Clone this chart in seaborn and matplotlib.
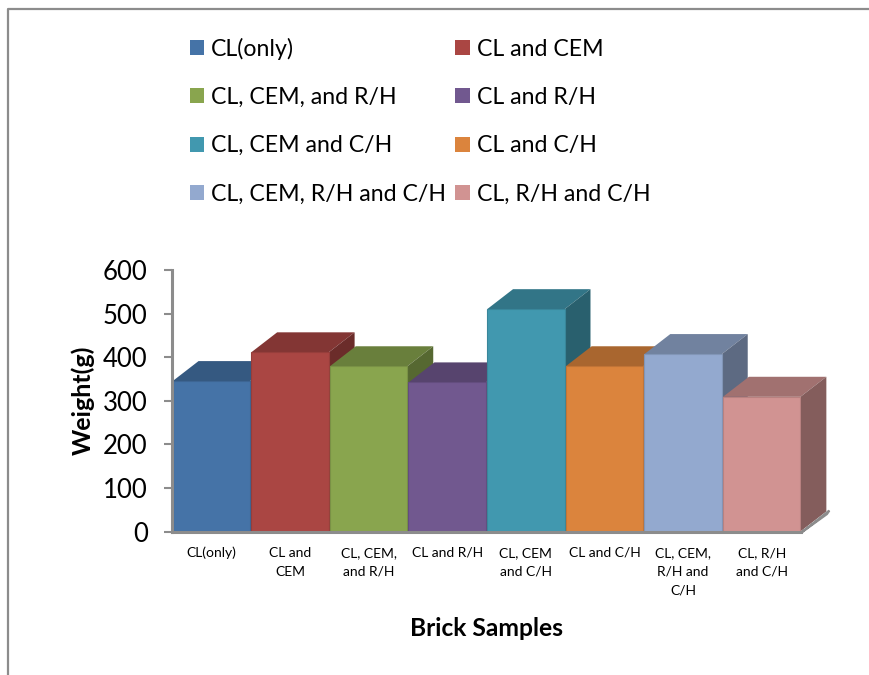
import matplotlib
matplotlib.use("Agg")
import matplotlib.pyplot as plt
import matplotlib.colors as mcolors
from matplotlib.lines import Line2D
from matplotlib.patches import Patch, Polygon
import seaborn as sns

samples = ["CL(only)", "CL and CEM", "CL, CEM, and R/H", "CL and R/H",
           "CL, CEM and C/H", "CL and C/H", "CL, CEM, R/H and C/H", "CL, R/H and C/H"]
tick_labels = ["CL(only)", "CL and\nCEM", "CL, CEM,\nand R/H", "CL and R/H",
               "CL, CEM\nand C/H", "CL and C/H", "CL, CEM,\nR/H and\nC/H", "CL, R/H\nand C/H"]
weights = [345, 411, 379, 342, 510, 379, 407, 309]
colors = ["#4573A7", "#AA4643", "#89A54E", "#71588F",
          "#4198AF", "#DB843D", "#93A9CF", "#D19392"]

FRAME = "#8C8C8C"
DEPTH_X = 0.33   # extrusion of the bars, in category widths
DEPTH_Y = 46     # extrusion of the bars, in grams

sns.set_theme(style="white")
plt.rcParams["font.family"] = ["Lato", "DejaVu Sans"]

fig = plt.figure(figsize=(8.7, 6.75), dpi=100)
ax = fig.add_axes([172 / 870, 1 - 531.5 / 675, 629 / 870, 261.5 / 675])

sns.barplot(x=samples, y=weights, hue=samples, palette=colors, legend=False,
            width=0.985, saturation=1, ax=ax)
ax.set_xlim(-0.5, 7.5)
ax.set_ylim(0, 600)


def shade(color, factor):
    r, g, b = mcolors.to_rgb(color)
    return (r * factor, g * factor, b * factor)


# Extruded top and side faces; later bars overlap earlier ones
for i, (bar, value, color) in enumerate(zip(ax.patches, weights, colors)):
    x0 = bar.get_x()
    x1 = x0 + bar.get_width()
    z = 3 + i * 2
    top = Polygon([(x0, value), (x1, value), (x1 + DEPTH_X, value + DEPTH_Y),
                   (x0 + DEPTH_X, value + DEPTH_Y)],
                  facecolor=shade(color, 0.77), edgecolor="none", clip_on=False, zorder=z)
    side = Polygon([(x1, 0), (x1 + DEPTH_X, DEPTH_Y), (x1 + DEPTH_X, value + DEPTH_Y),
                    (x1, value)],
                   facecolor=shade(color, 0.63), edgecolor="none", clip_on=False, zorder=z)
    ax.add_patch(top)
    ax.add_patch(side)
    bar.set_zorder(z + 1)
    bar.set_edgecolor(shade(color, 0.88))
    bar.set_linewidth(0.8)

# Floor: grey rim along the base and its slanted end on the right
floor = Polygon([(7.5, -3), (7.5 + DEPTH_X + 0.03, DEPTH_Y + 2), (7.5 + DEPTH_X, DEPTH_Y - 6), (7.5, -3)],
                facecolor=FRAME, edgecolor=FRAME, linewidth=1.6, clip_on=False, zorder=30)
ax.add_patch(floor)

for name in ("top", "right"):
    ax.spines[name].set_visible(False)
for name in ("left", "bottom"):
    ax.spines[name].set_color(FRAME)
    ax.spines[name].set_linewidth(2.2)
    ax.spines[name].set_zorder(40)

ax.set_yticks(range(0, 601, 100))
ax.tick_params(axis="y", length=5.5, width=1.5, color=FRAME, labelsize=18.5, pad=12,
               left=True, labelcolor="black")
ax.set_xticks(range(len(samples)))
ax.set_xticklabels(tick_labels, fontsize=10, linespacing=1.7, color="black")
ax.tick_params(axis="x", length=0, pad=11)

ax.set_ylabel("Weight(g)", fontsize=18, fontweight="bold", color="black", labelpad=0)
ax.yaxis.set_label_coords((95 - 172) / 629, 0.5 - (400 - 400.7) / 261.5)
ax.set_xlabel("Brick Samples", fontsize=17.7, fontweight="bold", color="black")
ax.xaxis.set_label_coords((486 - 172) / 629, -(628 - 531.5) / 261.5)
ax.xaxis.label.set_verticalalignment("center")

# Legend reads across rows, so entries are ordered column by column
order = [0, 2, 4, 6, 1, 3, 5, 7]
handles = [Patch(facecolor=colors[i], edgecolor="none") for i in order]
labels = [samples[i] for i in order]
fig.legend(handles, labels, ncol=2, loc="upper left", bbox_to_anchor=(169 / 870, 1 - 17 / 675),
           frameon=False, fontsize=16.7, handlelength=0.62, handleheight=0.62,
           handletextpad=0.3, labelspacing=1.17, columnspacing=0.4, labelcolor="black")

# Outer frame along the top and left edges
fig.add_artist(Line2D([8.5 / 870, 8.5 / 870, 1], [0, 1 - 8.5 / 675, 1 - 8.5 / 675],
                      color=FRAME, linewidth=1.6, transform=fig.transFigure))

fig.savefig("out.png", dpi=100)
